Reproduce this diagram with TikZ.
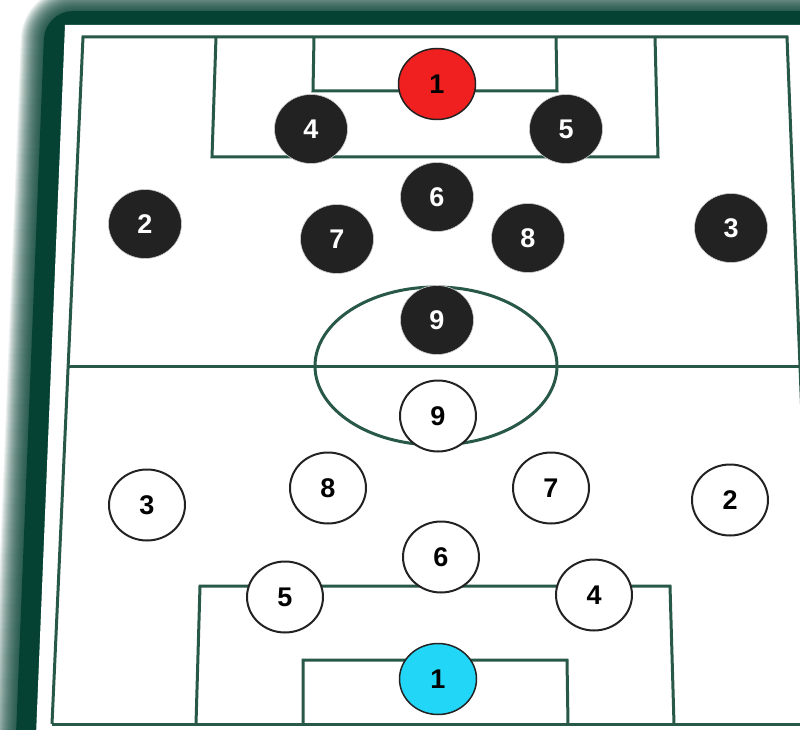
\documentclass[tikz,border=0pt]{standalone}
\usepackage{fontspec}
\setmainfont{Liberation Sans}
\usetikzlibrary{shapes.geometric}
\definecolor{framegreen}{RGB}{6,66,52}
\definecolor{linegreen}{RGB}{40,88,72}
\definecolor{darkplayer}{RGB}{34,34,34}
\definecolor{gkred}{RGB}{240,32,32}
\definecolor{gkcyan}{RGB}{34,214,248}
\begin{document}
\begin{tikzpicture}[x=1pt,y=-1pt,
  pitchline/.style={draw=linegreen, line width=3pt, line join=miter},
  player/.style={ellipse, inner sep=0pt, font=\fontsize{27}{27}\selectfont\bfseries},
  darkp/.style={player, fill=darkplayer, draw=white!80!black, line width=0.6pt, text=white, minimum width=73pt, minimum height=69pt},
  whitep/.style={player, fill=white, draw=darkplayer, line width=2pt, text=black, minimum width=76pt, minimum height=71pt},
  gkp/.style={player, draw=darkplayer, line width=1.5pt, text=black, minimum width=77pt, minimum height=71pt}]
\useasboundingbox (0,0) rectangle (800,730);
\clip (0,0) rectangle (800,730);
\fill[white] (0,0) rectangle (800,730);
% blurred board frame
\foreach \w in {2,4,...,46}
  \draw[framegreen, opacity=0.07, line width=\w pt, rounded corners=28pt, line join=round]
    (45,11) -- (830,11) -- (830,760) -- (15,760) -- cycle;
\fill[framegreen, rounded corners=28pt] (45,11) -- (830,11) -- (830,760) -- (15,760) -- cycle;
\fill[white] (65,25) -- (830,25) -- (830,760) -- (35,760) -- cycle;
% pitch lines
\draw[pitchline] (52,724) -- (83,37) -- (787,37) -- (810,620);
\draw[pitchline] (52,724) -- (810,724);
\draw[pitchline] (69,366) -- (810,366);
\draw[pitchline] (216,37) -- (212,157) -- (658,157) -- (655,37);
\draw[pitchline] (314,37) -- (313,91) -- (557,91) -- (556,37);
\draw[pitchline] (196,724) -- (200,586) -- (670,586) -- (674,724);
\draw[pitchline] (303,724) -- (303,660) -- (567,660) -- (568,724);
\draw[pitchline] (436,366) ellipse [x radius=121pt, y radius=79pt];
% top team
\node[gkp, fill=gkred] (t1) at (437,84) {1};
\node[darkp] (t4) at (311,129) {4};
\node[darkp] (t5) at (566,129) {5};
\node[darkp] (t6) at (437,197) {6};
\node[darkp] (t2) at (145,224) {2};
\node[darkp] (t7) at (337,239) {7};
\node[darkp] (t8) at (528,238) {8};
\node[darkp] (t3) at (731,228) {3};
\node[darkp] (t9) at (437,320) {9};
% bottom team
\node[whitep] (b9) at (438,416) {9};
\node[whitep] (b8) at (328,488) {8};
\node[whitep] (b7) at (551,488) {7};
\node[whitep] (b3) at (147,505) {3};
\node[whitep] (b2) at (730,500) {2};
\node[whitep] (b6) at (441,557) {6};
\node[whitep] (b5) at (285,597) {5};
\node[whitep] (b4) at (594,595) {4};
\node[gkp, fill=gkcyan] (b1) at (438,679) {1};
\end{tikzpicture}
\end{document}
